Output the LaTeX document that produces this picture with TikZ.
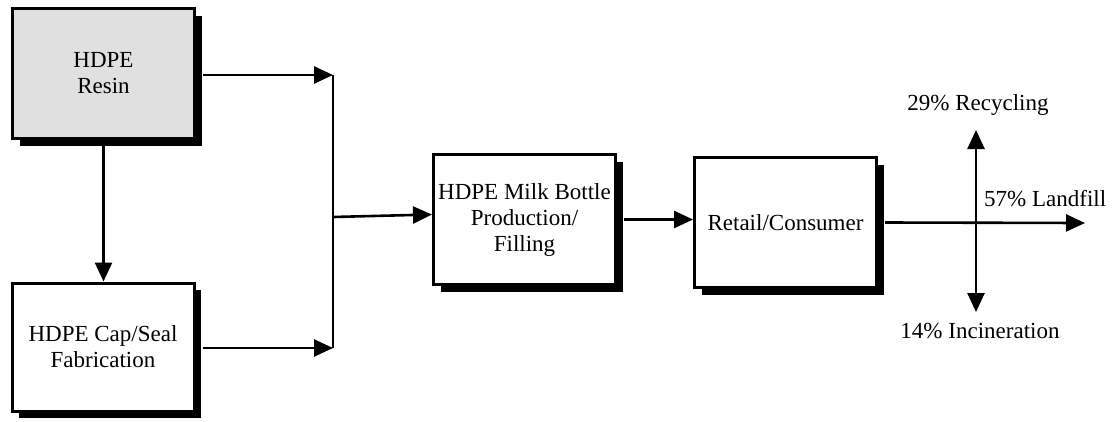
\documentclass[tikz,border=0pt]{standalone}
\usepackage{fontspec}
\setmainfont{Liberation Serif}
\usetikzlibrary{arrows.meta,shadows}
\begin{document}
\begin{tikzpicture}[x=1pt,y=-1pt,
  font=\fontsize{23}{26}\selectfont,
  stage/.style={draw=black, line width=3pt, fill=white, align=center,
    minimum width=182pt, minimum height=130pt, inner sep=2pt,
    drop shadow={shadow xshift=7pt, shadow yshift=-7pt, fill=black, opacity=1}},
  flow/.style={line width=2.6pt, -{Triangle[length=19pt,width=17pt]}},
  plain/.style={line width=2.6pt}]
  \useasboundingbox (0,0) rectangle (1112,421);

  % process stages
  \node[stage, fill={rgb,255:red,224;green,224;blue,224}] (resin) at (103.5,73.5) {HDPE\\Resin};
  \node[stage, minimum height=128pt] (cap) at (103,347) {HDPE Cap/Seal\\Fabrication};
  \node[stage] (mid) at (524.5,219.5) {HDPE Milk Bottle\\Production/\\Filling};
  \node[stage] (retail) at (785.5,222.5) {Retail/Consumer};

  % collector bar feeding the bottle line
  \coordinate (bartop) at (333,75);
  \coordinate (barbot) at (333,348);
  \coordinate (join) at (333,217);
  \draw[plain] (bartop) -- (barbot);
  \draw[flow] ([xshift=7pt]resin.east |- bartop) -- (bartop);
  \draw[flow] ([xshift=7pt]resin.east |- barbot) -- (barbot);
  \draw[flow] (resin.south |- 0,146) -- (resin.south |- cap.north);
  \draw[flow] (join) -- ([yshift=5pt]mid.west);
  \draw[flow] ([xshift=7pt]mid.east) -- (mid.east -| retail.west);

  % end-of-life split
  \coordinate (cross) at (976,223);
  \coordinate (lf) at (1085,223);
  \coordinate (rc) at (976,130);
  \coordinate (inc) at (976,312);
  \draw[flow] ([xshift=7pt]retail.east) -- (lf);
  \draw[flow] (cross) -- (rc);
  \draw[flow] (cross) -- (inc);

  \node (lrc) at (978,105) {29\% Recycling};
  \node (linc) at (980,331) {14\% Incineration};
  \node[anchor=west, inner sep=0pt] (llf) at (984,199) {57\% Landfill};
\end{tikzpicture}
\end{document}
